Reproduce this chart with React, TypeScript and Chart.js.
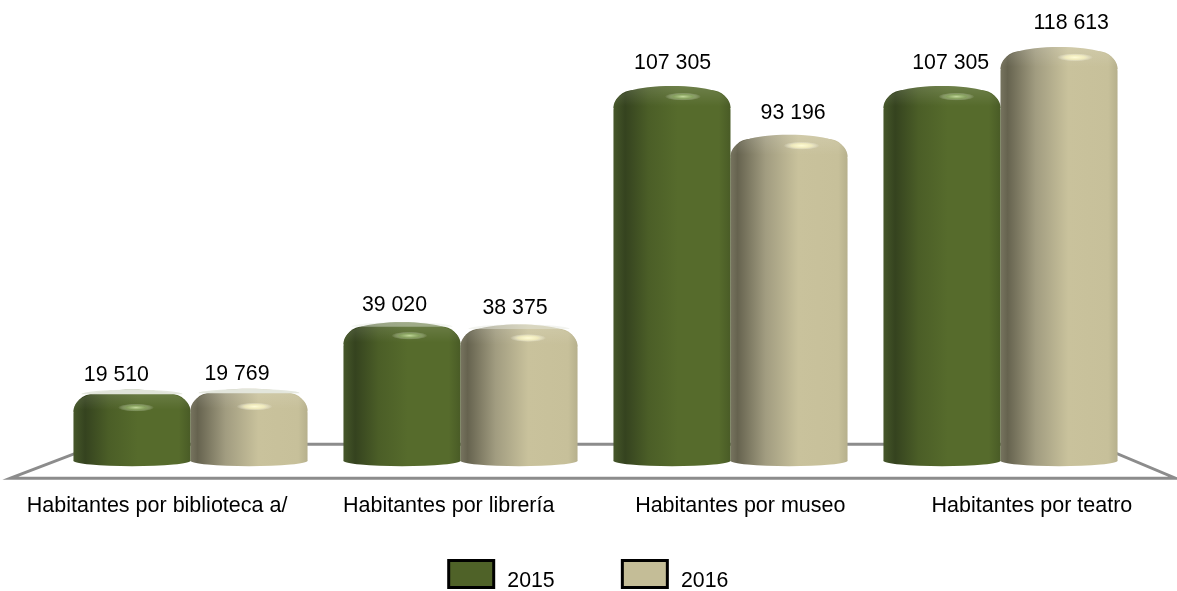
import React, { useEffect, useRef } from "react";
import { Chart, registerables } from "chart.js";

Chart.register(...registerables);

const categories = [
  "Habitantes por biblioteca a/",
  "Habitantes por librería",
  "Habitantes por museo",
  "Habitantes por teatro",
];
const series2015 = [19510, 39020, 107305, 107305];
const series2016 = [19769, 38375, 93196, 118613];
const seriesNames = ["2015", "2016"];

const FONT = "'Liberation Sans', Arial, sans-serif";
const SIZE = 21.3;
const SOLID = ["#4f6228", "#c4bd97"];
const STOPS = [
  [[0, "#46572a"], [0.1, "#35431f"], [0.3, "#4b5e27"], [0.55, "#566b2c"], [0.9, "#566b2c"], [1, "#495b26"]],
  [[0, "#77745f"], [0.06, "#66634f"], [0.3, "#a19c80"], [0.58, "#c9c29c"], [0.92, "#c7c09a"], [1, "#b6b08c"]],
] as [number, string][][];
const CAT_PCT = 0.867;

const fmt = (v: number) => String(v).replace(/\B(?=(\d{3})+$)/g, " ");

const barFill = (c: any) => {
  const chart = c.chart;
  const sx = chart.scales.x;
  if (!sx || c.dataIndex === undefined) return SOLID[c.datasetIndex];
  const cat = sx.width / categories.length;
  const w = (cat * CAT_PCT) / 2;
  const cx = sx.getPixelForValue(c.dataIndex);
  const left = cx + (c.datasetIndex === 0 ? -w : 0);
  const g = chart.ctx.createLinearGradient(left, 0, left + w, 0);
  STOPS[c.datasetIndex].forEach(([o, col]) => g.addColorStop(o, col));
  return g;
};

const cylinderPlugin = {
  id: "cylinder",
  afterLayout(chart: any) {
    chart.legend.left -= 5.5;
    chart.legend.right -= 5.5;
  },
  beforeDraw(chart: any) {
    // spread the axis labels the way the tilted view of the original does
    const s = chart.scales.x;
    const mid = (chart.chartArea.left + chart.chartArea.right) / 2;
    s._computeLabelArea = () => undefined;
    s._labelItems = null;
    s.getLabelItems().forEach((it: any) => {
      const t = it.options.translation;
      t[0] += (t[0] - mid) * 0.08 - 1;
      t[1] += 28;
    });
  },
  beforeDatasetsDraw(chart: any) {
    const { ctx, chartArea: a } = chart;
    ctx.save();
    ctx.strokeStyle = "#8c8c8c";
    ctx.lineWidth = 3;
    ctx.lineJoin = "miter";
    ctx.beginPath();
    ctx.moveTo(a.left - 45, a.bottom + 17);
    ctx.lineTo(a.left + 44, a.bottom - 17);
    ctx.lineTo(a.right - 41, a.bottom - 17);
    ctx.lineTo(a.right + 40, a.bottom + 17);
    ctx.closePath();
    ctx.stroke();
    ctx.restore();
  },
  afterDatasetsDraw(chart: any) {
    const { ctx, chartArea: a } = chart;
    const mid = (a.left + a.right) / 2;
    ctx.save();
    chart.data.datasets.forEach((ds: any, di: number) => {
      chart.getDatasetMeta(di).data.forEach((el: any, i: number) => {
        const { x, y, base, width } = el;
        const h = base - y;
        const fill = el.options.backgroundColor;
        const l = x - width / 2;
        const r = x + width / 2;
        // bottom curve
        ctx.fillStyle = fill;
        ctx.beginPath();
        ctx.ellipse(x, base - 0.5, width / 2, 5.5, 0, 0, Math.PI);
        ctx.fill();
        // top dome
        const dome = () => {
          ctx.beginPath();
          ctx.moveTo(l, y + 18);
          ctx.bezierCurveTo(l, y + 2, l + width * 0.2, y - 4, x, y - 4);
          ctx.bezierCurveTo(r - width * 0.2, y - 4, r, y + 2, r, y + 18);
          ctx.closePath();
        };
        dome();
        ctx.fill();
        const sheen = ctx.createLinearGradient(0, y - 4, 0, y + 16);
        sheen.addColorStop(0, "rgba(255,255,255,0.14)");
        sheen.addColorStop(1, "rgba(255,255,255,0)");
        ctx.fillStyle = sheen;
        ctx.fill();
        const pale = Math.min(1, Math.max(0, 1 - h / 190) * 1.5);
        ctx.fillStyle = `rgba(228,231,222,${pale})`;
        ctx.beginPath();
        ctx.ellipse(x, y + 0.5, width / 2 - 8, 4.5, 0, Math.PI, 2 * Math.PI);
        ctx.fill();
        // specular spot
        const hx = x + 3 + ((x - a.left) / a.width) * 14;
        const hy = y + 5 + 600 / h;
        ctx.save();
        ctx.translate(hx, hy);
        ctx.scale(1, 0.22);
        const g = ctx.createRadialGradient(0, 0, 0, 0, 0, 18);
        g.addColorStop(0, di === 0 ? "rgba(200,222,160,0.95)" : "rgba(255,252,215,1)");
        g.addColorStop(0.55, di === 0 ? "rgba(160,190,120,0.6)" : "rgba(255,250,200,0.7)");
        g.addColorStop(1, "rgba(255,255,255,0)");
        ctx.fillStyle = g;
        ctx.beginPath();
        ctx.arc(0, 0, 18, 0, 2 * Math.PI);
        ctx.fill();
        ctx.restore();
        // value label
        ctx.fillStyle = "#000";
        ctx.font = `${SIZE}px ${FONT}`;
        ctx.textAlign = "center";
        ctx.textBaseline = "middle";
        ctx.fillText(fmt(ds.data[i]), x + (x - mid - 56) * 0.03, y - 17 - (11 * h) / 412);
      });
    });
    ctx.restore();
  },
};

export default function App() {
  const ref = useRef<HTMLCanvasElement>(null);
  useEffect(() => {
    const chart = new Chart(ref.current!, {
      type: "bar",
      data: {
        labels: categories,
        datasets: [
          { label: seriesNames[0], data: series2015, backgroundColor: barFill },
          { label: seriesNames[1], data: series2016, backgroundColor: barFill },
        ],
      },
      plugins: [cylinderPlugin],
      options: {
        responsive: false,
        animation: false,
        layout: { padding: { left: 55.5, right: 41.5, top: 11.5, bottom: -6.5 } },
        datasets: {
          bar: {
            barPercentage: 1,
            categoryPercentage: CAT_PCT,
            borderRadius: { topLeft: 20, topRight: 20, bottomLeft: 0, bottomRight: 0 },
            borderSkipped: false,
          },
        },
        scales: {
          x: {
            grid: { display: false, drawTicks: false },
            border: { display: false },
            ticks: { color: "#000", padding: 4.4, maxRotation: 0, autoSkip: false, font: { family: FONT, size: 21.5 } },
          },
          y: { display: false, min: 0, max: 130000 },
        },
        plugins: {
          tooltip: { enabled: false },
          legend: {
            position: "bottom",
            onClick: () => {},
            labels: {
              boxWidth: 45,
              boxHeight: 27,
              padding: 64.7,
              color: "#000",
              textAlign: "center",
              font: { family: FONT, size: SIZE, lineHeight: "7.5px" },
              generateLabels: () =>
                seriesNames.map((n, i) => ({
                  text: ["", n] as any,
                  fillStyle: SOLID[i],
                  strokeStyle: "#000",
                  lineWidth: 3,
                  datasetIndex: i,
                })),
            },
          },
        },
      } as any,
    });
    return () => chart.destroy();
  }, []);
  return (
    <div style={{ position: "fixed", left: 0, top: 0, width: 1177, height: 591, background: "#fff" }}>
      <canvas ref={ref} width={1177} height={591} style={{ display: "block" }} />
    </div>
  );
}
